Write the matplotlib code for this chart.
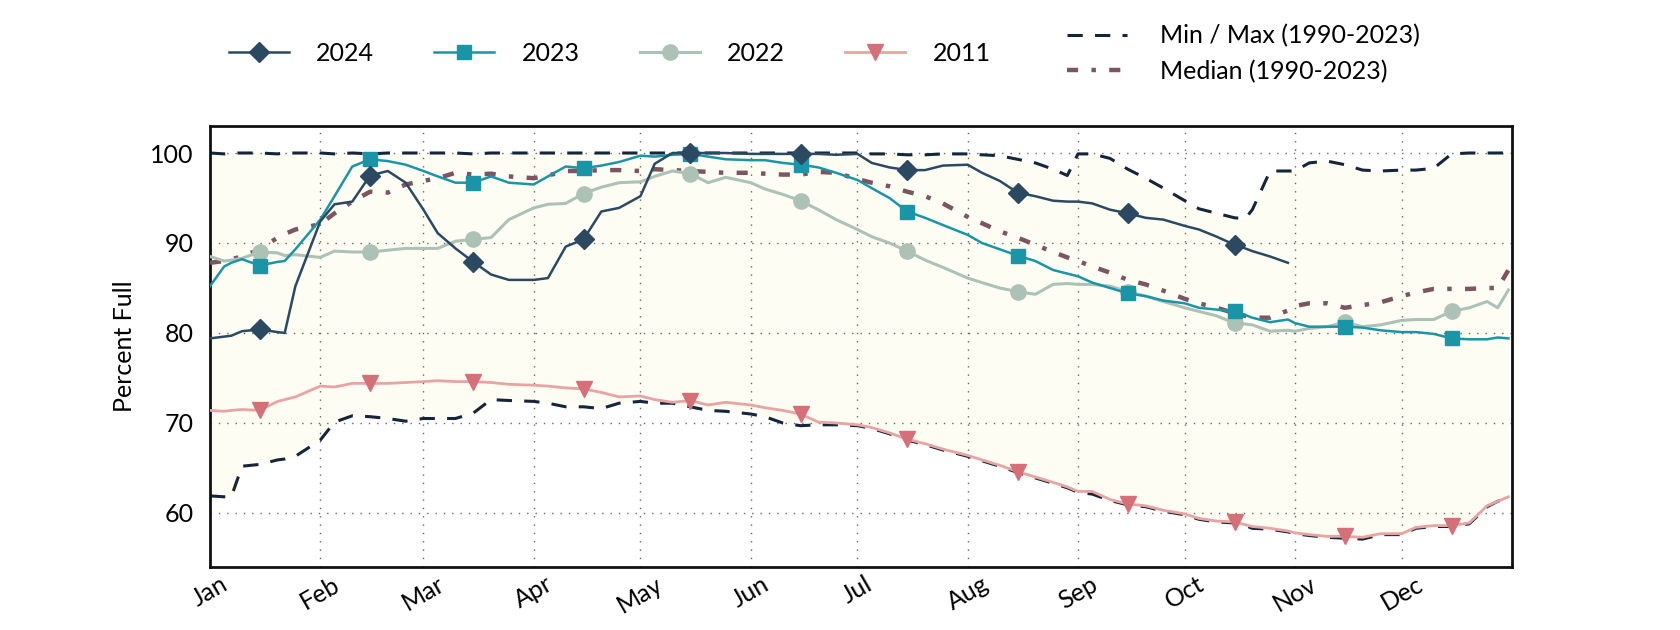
import numpy as np
import pandas as pd
import matplotlib
matplotlib.use("Agg")
import matplotlib.pyplot as plt
from matplotlib.lines import Line2D

plt.rcParams['font.family'] = ['Lato', 'DejaVu Sans']
size = 18

# sample dates (day of 2024)
dates = pd.to_datetime([
    '2024-01-01', '2024-01-05', '2024-01-07', '2024-01-10', '2024-01-15', '2024-01-20', '2024-01-22', '2024-01-25',
    '2024-02-01', '2024-02-05', '2024-02-10', '2024-02-15', '2024-02-20', '2024-02-25',
    '2024-03-01', '2024-03-05', '2024-03-10', '2024-03-15', '2024-03-20', '2024-03-25',
    '2024-04-01', '2024-04-05', '2024-04-10', '2024-04-15', '2024-04-20', '2024-04-25',
    '2024-05-01', '2024-05-05', '2024-05-10', '2024-05-15', '2024-05-20', '2024-05-25',
    '2024-06-01', '2024-06-05', '2024-06-10', '2024-06-15', '2024-06-20', '2024-06-25',
    '2024-07-01', '2024-07-05', '2024-07-10', '2024-07-15', '2024-07-20', '2024-07-25',
    '2024-08-01', '2024-08-05', '2024-08-10', '2024-08-15', '2024-08-20', '2024-08-25', '2024-08-29',
    '2024-09-01', '2024-09-05', '2024-09-10', '2024-09-15', '2024-09-20', '2024-09-25',
    '2024-10-01', '2024-10-05', '2024-10-10', '2024-10-15', '2024-10-18', '2024-10-20', '2024-10-25', '2024-10-30',
    '2024-11-01', '2024-11-05', '2024-11-10', '2024-11-15', '2024-11-20', '2024-11-25',
    '2024-12-01', '2024-12-05', '2024-12-10', '2024-12-15', '2024-12-20', '2024-12-25', '2024-12-28', '2024-12-31',
])
months = ['Jan', 'Feb', 'Mar', 'Apr', 'May', 'Jun', 'Jul', 'Aug', 'Sep', 'Oct', 'Nov', 'Dec']

nan = np.nan
y2024 = [79.4, 79.6, 79.7, 80.2, 80.4, 80.1, 80.0, 85.2,
         92.4, 94.3, 94.6, 97.5, 98.0, 96.7,
         93.7, 91.1, 89.4, 87.9, 86.5, 85.9,
         85.9, 86.1, 89.6, 90.4, 93.5, 93.9,
         95.2, 98.8, 100.0, 100.0, 100.0, 100.0,
         99.9, 99.9, 99.9, 99.9, 99.9, 99.8,
         99.9, 98.9, 98.4, 98.1, 98.1, 98.6,
         98.7, 97.8, 96.9, 95.6, 95.2, 94.7, 94.6,
         94.6, 94.4, 93.7, 93.3, 92.8, 92.6,
         91.9, 91.5, 90.7, 89.8, 89.4, 89.1, 88.5, 87.8,
         nan, nan, nan, nan, nan, nan,
         nan, nan, nan, nan, nan, nan, nan, nan]
y2023 = [85.2, 87.4, 87.8, 88.2, 87.5, 87.9, 88.0, 89.3,
         92.6, 95.2, 98.5, 99.3, 99.1, 98.7,
         98.0, 97.4, 96.7, 96.7, 97.4, 96.7,
         96.5, 97.4, 98.5, 98.3, 98.6, 99.0,
         99.7, 99.6, 99.8, 99.9, 99.6, 99.3,
         99.2, 99.2, 98.9, 98.7, 98.4, 97.8,
         97.0, 96.1, 95.0, 93.5, 92.8, 92.0,
         90.9, 90.0, 89.3, 88.6, 88.0, 87.0, 86.6,
         86.3, 85.6, 85.0, 84.4, 84.1, 83.6,
         83.3, 82.8, 82.6, 82.4, 82.0, 81.7, 81.2, 81.5,
         81.1, 80.7, 80.7, 80.7, 80.6, 80.3,
         80.1, 80.1, 79.9, 79.4, 79.3, 79.3, 79.5, 79.4]
y2022 = [88.5, 88.0, 88.1, 88.3, 89.0, 88.9, 88.6, 88.7,
         88.4, 89.1, 89.0, 89.0, 89.2, 89.4,
         89.4, 89.4, 90.2, 90.4, 90.6, 92.6,
         93.9, 94.3, 94.4, 95.5, 96.2, 96.7,
         96.8, 97.4, 98.0, 97.7, 96.7, 97.3,
         96.7, 96.0, 95.4, 94.7, 93.7, 92.6,
         91.5, 90.7, 90.0, 89.1, 88.1, 87.3,
         86.1, 85.6, 85.0, 84.6, 84.3, 85.4, 85.5,
         85.4, 85.4, 85.2, 84.6, 84.1, 83.5,
         82.8, 82.4, 81.9, 81.1, 81.0, 80.9, 80.2, 80.3,
         80.2, 80.5, 80.7, 81.2, 80.7, 80.9,
         81.4, 81.5, 81.5, 82.4, 82.8, 83.5, 82.8, 84.8]
y2011 = [71.4, 71.3, 71.4, 71.5, 71.4, 72.4, 72.6, 72.9,
         74.1, 74.0, 74.4, 74.4, 74.4, 74.5,
         74.6, 74.7, 74.6, 74.6, 74.5, 74.3,
         74.2, 74.1, 73.9, 73.8, 73.4, 72.9,
         73.0, 72.6, 72.3, 72.5, 72.0, 72.3,
         72.0, 71.7, 71.4, 71.0, 70.1, 70.0,
         69.8, 69.5, 68.9, 68.2, 67.7, 67.1,
         66.4, 65.9, 65.3, 64.6, 64.0, 63.4, 62.9,
         62.4, 62.4, 61.5, 61.0, 60.8, 60.3,
         59.9, 59.4, 59.1, 59.0, 58.7, 58.5, 58.3, 58.0,
         57.8, 57.6, 57.4, 57.4, 57.3, 57.7,
         57.7, 58.4, 58.6, 58.6, 58.9, 60.8, 61.3, 61.8]
ymedian = [87.8, 88.0, 88.2, 88.5, 89.3, 90.6, 91.0, 91.5,
           92.1, 93.3, 94.6, 95.7, 95.6, 96.5,
           96.9, 97.2, 97.8, 97.6, 97.7, 97.4,
           97.2, 97.5, 98.0, 98.0, 98.1, 98.1,
           98.0, 98.2, 98.1, 98.0, 97.9, 97.8,
           97.8, 97.7, 97.6, 97.6, 97.9, 97.8,
           97.1, 96.7, 96.3, 95.7, 95.2, 94.4,
           92.9, 92.2, 91.3, 90.6, 89.8, 89.0, 88.4,
           88.0, 87.4, 86.7, 85.9, 85.4, 84.7,
           83.8, 83.3, 82.8, 82.2, 81.9, 81.7, 81.7, 82.5,
           83.0, 83.3, 83.3, 82.8, 83.1, 83.4,
           84.1, 84.5, 84.9, 84.9, 84.9, 85.0, 85.0, 87.0]
ymax = [100.0, 99.9, 100.0, 100.0, 100.0, 99.9, 100.0, 100.0,
        100.0, 99.9, 100.0, 99.9, 100.0, 100.0,
        100.0, 100.0, 100.0, 99.9, 100.0, 100.0,
        100.0, 100.0, 100.0, 100.0, 100.0, 100.0,
        100.0, 100.0, 100.0, 100.0, 100.0, 100.0,
        100.0, 100.0, 100.0, 100.0, 100.0, 100.0,
        100.0, 99.9, 99.9, 99.8, 99.8, 99.9,
        99.9, 99.8, 99.7, 99.3, 98.9, 98.2, 97.5,
        99.9, 99.9, 99.4, 98.2, 97.2, 96.1,
        94.7, 93.8, 93.3, 92.8, 92.7, 93.7, 98.0, 98.0,
        98.0, 98.9, 99.1, 98.7, 98.1, 98.0,
        98.1, 98.1, 98.3, 99.9, 100.0, 100.0, 100.0, 100.0]
ymin = [61.9, 61.8, 61.8, 65.2, 65.4, 65.9, 66.0, 66.3,
        68.1, 70.1, 70.8, 70.7, 70.5, 70.2,
        70.5, 70.5, 70.5, 71.1, 72.6, 72.5,
        72.4, 72.2, 71.8, 71.8, 71.6, 72.2,
        72.4, 72.2, 72.2, 71.8, 71.4, 71.3,
        71.0, 70.7, 70.0, 69.7, 69.8, 69.8,
        69.7, 69.4, 68.8, 68.1, 67.6, 67.0,
        66.3, 65.8, 65.2, 64.5, 63.9, 63.3, 62.8,
        62.3, 62.1, 61.4, 60.9, 60.7, 60.2,
        59.8, 59.3, 59.0, 58.9, 58.6, 58.3, 58.2, 57.9,
        57.7, 57.5, 57.3, 57.2, 57.1, 57.6,
        57.6, 58.3, 58.5, 58.5, 58.8, 60.7, 61.3, 61.7]

marks = [i for i, d in enumerate(dates) if d.day == 15]
month_starts = pd.date_range('2024-01-01', periods=12, freq='MS')

fig = plt.figure(figsize=(16.8, 6.3), dpi=100)
ax = fig.add_axes([0.125, 0.1, 0.775, 0.7])

ax.fill_between(dates, ymin, ymax, color='#fdfdf3', zorder=1, lw=0)
ax.plot(dates, ymax, color='#15253a', lw=2.2, dashes=(5, 4), zorder=2)
ax.plot(dates, ymin, color='#15253a', lw=2.2, dashes=(5, 4), zorder=2)
ax.plot(dates, ymedian, color='#7b5561', lw=3.2, dashes=(2.5, 3, 1, 3), zorder=3)
ax.plot(dates, y2011, color='#e8a4a2', lw=2, marker='v', ms=11, mfc='#d56f78', mec='#d56f78',
        markevery=marks, zorder=4)
ax.plot(dates, y2022, color='#adc2b7', lw=2.2, marker='o', ms=11, mfc='#adc2b7', mec='#adc2b7',
        markevery=marks, zorder=5)
ax.plot(dates, y2023, color='#1a95a8', lw=1.8, marker='s', ms=10, markevery=marks, zorder=6)
ax.plot(dates, y2024, color='#2b4a62', lw=1.8, marker='D', ms=10, markevery=marks, zorder=7)

ax.set_xlim(pd.Timestamp('2024-01-01'), pd.Timestamp('2025-01-01'))
ax.set_ylim(54, 103)
ax.set_yticks([60, 70, 80, 90, 100])
ax.set_xticks(month_starts)
ax.set_xticklabels(months, rotation=30, ha='center')
ax.tick_params(axis='both', length=0, labelsize=size)
ax.tick_params(axis='x', pad=4)
ax.tick_params(axis='y', pad=12)
ax.grid(True, color='#666666', lw=1, linestyle=(0, (1, 5)))
for s in ax.spines.values():
    s.set_linewidth(2)
    s.set_color('#111111')
ax.set_ylabel('Percent Full', fontsize=size, labelpad=10)

yr_handles = [
    Line2D([], [], color='#2b4a62', lw=1.8, marker='D', ms=10),
    Line2D([], [], color='#1a95a8', lw=1.8, marker='s', ms=10),
    Line2D([], [], color='#adc2b7', lw=2.2, marker='o', ms=11),
    Line2D([], [], color='#e8a4a2', lw=2, marker='v', ms=11, mfc='#d56f78', mec='#d56f78'),
]
fig.legend(yr_handles, ['2024', '2023', '2022', '2011'], loc='center', bbox_to_anchor=(0.363, 0.915),
           ncol=4, frameon=False, fontsize=size, handlelength=2.4, handletextpad=1.1, columnspacing=2.4)
ref_handles = [
    Line2D([], [], color='#15253a', lw=2.2, dashes=(5, 4)),
    Line2D([], [], color='#7b5561', lw=3.2, dashes=(2.5, 3, 1, 3)),
]
fig.legend(ref_handles, ['Min / Max (1990-2023)', 'Median (1990-2023)'], loc='center',
           bbox_to_anchor=(0.74, 0.915), ncol=1, frameon=False, fontsize=size,
           handlelength=2.4, handletextpad=1.3, labelspacing=0.5, alignment='left')

plt.savefig('out.png', dpi=100)
